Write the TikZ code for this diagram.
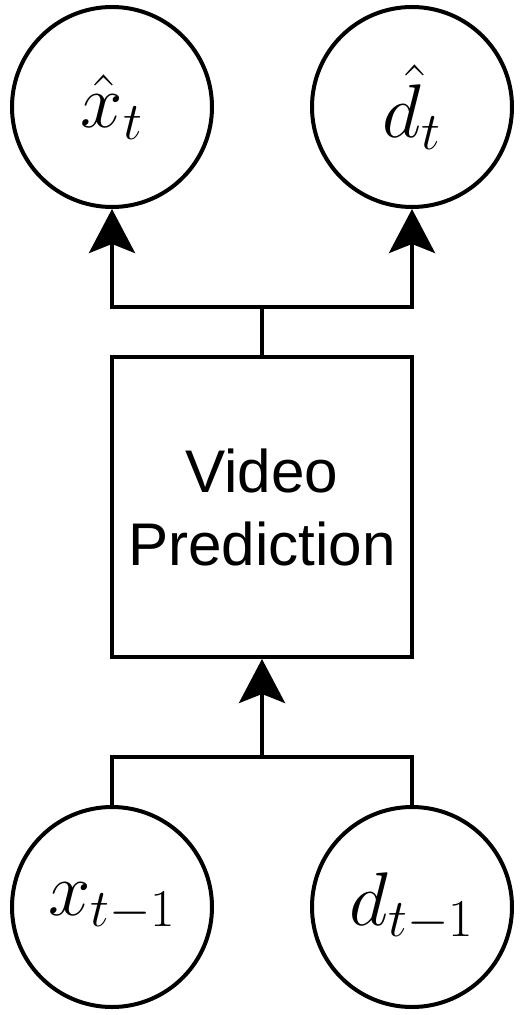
\RequirePackage{fix-cm}
\documentclass[tikz,border=0pt]{standalone}
\usepackage{fontspec}
\newfontfamily\labelfont{Liberation Sans}
\usetikzlibrary{arrows.meta}

\colorlet{node edge}{black}
\tikzset{
  value/.style={circle, draw=node edge, line width=2pt, minimum size=100pt, inner sep=0pt, font=\fontsize{38pt}{42pt}\selectfont},
  model/.style={rectangle, draw=node edge, line width=2pt, minimum width=150pt, minimum height=150pt, align=center, font=\labelfont\fontsize{30.1pt}{36.5pt}\selectfont}
  }
\tikzstyle{edge} = [draw, line width=2pt, -]
\tikzstyle{flow} = [draw, line width=2pt, -{Stealth[length=22pt,width=23pt,inset=4.5pt]}]

\begin{document}
\begin{tikzpicture}[x=0.5pt, y=-0.5pt]
  \useasboundingbox (0,0) rectangle (525,1015);

  \foreach \pos/\name/\lbl in {{(112,107)/xhat/$\hat{x}_t$}, {(412,107)/dhat/$\hat{d}_t$},
                               {(112,907)/xprev/$x_{t-1}$}, {(412,907)/dprev/$d_{t-1}$}} {
    \node[value] (\name) at \pos {\lbl};
  }

  \node[model] (pred) at (262,507) {Video\\Prediction};
  \coordinate (split) at (262,307);
  \coordinate (merge) at (262,757);

  % outputs
  \path[edge] (pred.north) -- (split);
  \path[flow] (split) -| (xhat.south);
  \path[flow] (split) -| (dhat.south);

  % inputs
  \path[edge] (xprev.north) |- (merge);
  \path[edge] (dprev.north) |- (merge);
  \path[flow] (merge) -- (pred.south);
\end{tikzpicture}
\end{document}
